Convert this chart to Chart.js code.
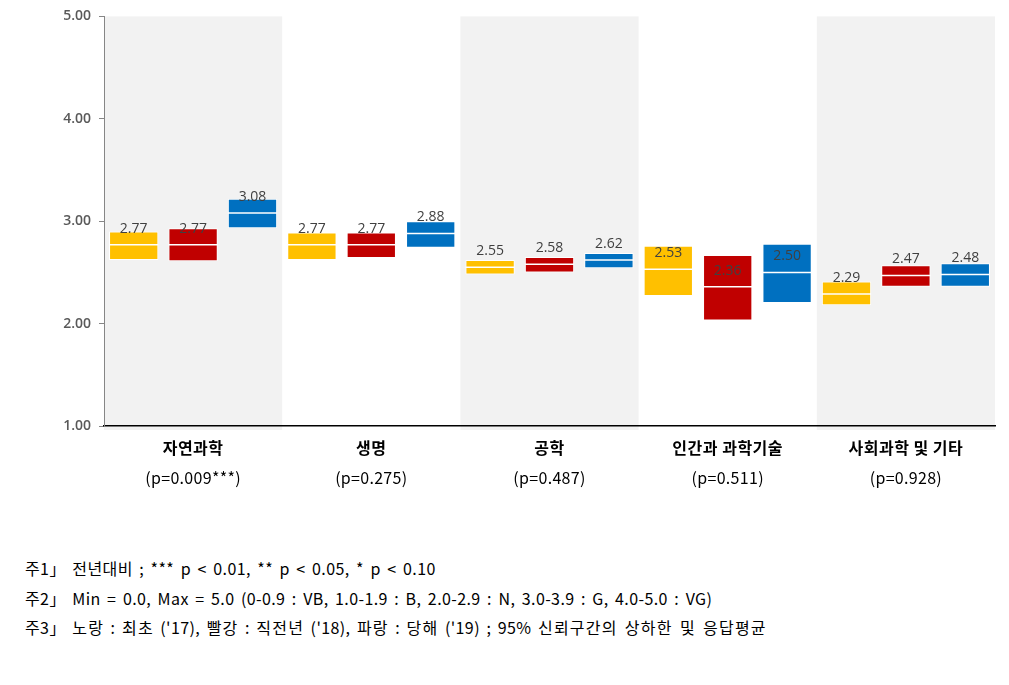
<!DOCTYPE html>
<html>
<head>
<meta charset="utf-8">
<script src="https://cdn.jsdelivr.net/npm/chart.js@4.4.1/dist/chart.umd.min.js"></script>
<style>
  body { margin: 0; background: #fff; }
  #wrap { position: absolute; left: 0; top: 0; width: 1009px; height: 520px; }
  .note { position: absolute; left: 25px; font-family: "Noto Sans CJK KR", sans-serif; font-size: 16px; color: #000; white-space: nowrap; letter-spacing: 0.4px; word-spacing: 2.5px; }
  .wide { letter-spacing: 1.2px; }
</style>
</head>
<body>
<div id="wrap"><canvas id="chart"></canvas></div>
<div class="note" style="top:556px">주1」 전년대비 ; *** p &lt; 0.01, ** p &lt; 0.05, * p &lt; 0.10</div>
<div class="note" style="top:586px">주2」 Min = 0.0, Max = 5.0 (0-0.9 : VB, 1.0-1.9 : B, 2.0-2.9 : N, 3.0-3.9 : G, 4.0-5.0 : VG)</div>
<div class="note" style="top:615px">주3」 <span class="wide">노랑</span> : <span class="wide">최초</span> ('17), <span class="wide">빨강</span> : <span class="wide">직전년</span> ('18), <span class="wide">파랑</span> : <span class="wide">당해</span> ('19) ; 95% <span class="wide">신뢰구간의 상하한 및 응답평균</span></div>
<script>
var categories = ['자연과학', '생명', '공학', '인간과 과학기술', '사회과학 및 기타'];
var pValues = ['(p=0.009***)', '(p=0.275)', '(p=0.487)', '(p=0.511)', '(p=0.928)'];
var yTicks = [1, 2, 3, 4, 5];

// '17 yellow
var low17 = [2.62, 2.62, 2.48, 2.27, 2.18];
var high17 = [2.90, 2.89, 2.62, 2.76, 2.41];
var mean17 = [2.77, 2.77, 2.55, 2.53, 2.29];
// '18 red
var low18 = [2.61, 2.64, 2.50, 2.03, 2.36];
var high18 = [2.93, 2.89, 2.65, 2.67, 2.57];
var mean18 = [2.77, 2.77, 2.58, 2.36, 2.47];
// '19 blue
var low19 = [2.93, 2.74, 2.54, 2.20, 2.36];
var high19 = [3.22, 3.00, 2.69, 2.78, 2.59];
var mean19 = [3.08, 2.88, 2.62, 2.50, 2.48];

var means = [mean17, mean18, mean19];

function range(lo, hi) {
    return lo.map(function (v, i) { return [v, hi[i]]; });
}

// grey bands behind every other category (drawn before the axes)
var bandPlugin = {
    id: 'bands',
    beforeDraw: function (chart) {
        var ctx = chart.ctx, x = chart.scales.x, a = chart.chartArea;
        var w = (a.right - a.left) / categories.length;
        ctx.save();
        ctx.fillStyle = '#f2f2f2';
        categories.forEach(function (c, i) {
            if (i % 2 == 0) {
                var cx = x.getPixelForValue(i);
                ctx.fillRect(cx - w / 2, a.top, w, a.bottom - a.top + 4);
            }
        });
        ctx.restore();
    }
};

// mean line + value label, x labels
var meanPlugin = {
    id: 'means',
    afterDatasetsDraw: function (chart) {
        var ctx = chart.ctx, y = chart.scales.y, x = chart.scales.x;
        ctx.save();
        chart.data.datasets.forEach(function (ds, d) {
            var meta = chart.getDatasetMeta(d);
            meta.data.forEach(function (bar, i) {
                var py = y.getPixelForValue(means[d][i]);
                ctx.strokeStyle = '#ffffff';
                ctx.lineWidth = 1.5;
                ctx.beginPath();
                ctx.moveTo(bar.x - bar.width / 2, py);
                ctx.lineTo(bar.x + bar.width / 2, py);
                ctx.stroke();
                ctx.fillStyle = '#404040';
                ctx.font = '14px "Open Sans", sans-serif';
                ctx.textAlign = 'center';
                ctx.textBaseline = 'middle';
                ctx.fillText(means[d][i].toFixed(2), bar.x, py - 16);
            });
        });
        categories.forEach(function (c, i) {
            var cx = x.getPixelForValue(i);
            ctx.fillStyle = '#000';
            ctx.textAlign = 'center';
            ctx.textBaseline = 'middle';
            ctx.letterSpacing = '0.5px';
            ctx.font = 'bold 16px "Noto Sans CJK KR", sans-serif';
            ctx.fillText(c, cx, 448);
            ctx.letterSpacing = '0.3px';
            ctx.font = '16px "Noto Sans CJK KR", sans-serif';
            ctx.fillText(pValues[i], cx, 478);
        });
        ctx.restore();
    }
};

new Chart(document.getElementById('chart').getContext('2d'), {
    type: 'bar',
    data: {
        labels: categories,
        datasets: [
            { label: "'17", data: range(low17, high17), backgroundColor: '#FFC000' },
            { label: "'18", data: range(low18, high18), backgroundColor: '#C00000' },
            { label: "'19", data: range(low19, high19), backgroundColor: '#0070C0' }
        ]
    },
    options: {
        responsive: true,
        maintainAspectRatio: false,
        animation: false,
        layout: { padding: { top: 10, right: 14, left: 0, bottom: 0 } },
        datasets: {
            bar: {
                categoryPercentage: 1.0,
                barPercentage: 0.83,
                borderColor: '#ffffff',
                borderWidth: 1,
                borderSkipped: false
            }
        },
        plugins: {
            legend: { display: false },
            tooltip: { enabled: false }
        },
        scales: {
            x: {
                grid: { display: false },
                border: { color: '#000', width: 1.5 },
                ticks: { display: false },
                afterFit: function (s) { s.height = 94; }
            },
            y: {
                min: 1,
                max: 5,
                afterBuildTicks: function (s) { s.ticks = yTicks.map(function (v) { return { value: v }; }); },
                grid: { drawOnChartArea: false, drawTicks: true, tickLength: 5, color: '#868686' },
                border: { color: '#868686', width: 1 },
                ticks: {
                    padding: 8,
                    color: '#595959',
                    font: { family: '"Open Sans", sans-serif', size: 14, weight: '600' },
                    callback: function (v) { return Number(v).toFixed(2); }
                },
                afterFit: function (s) { s.width = 104; }
            }
        }
    },
    plugins: [bandPlugin, meanPlugin]
});
</script>
</body>
</html>
